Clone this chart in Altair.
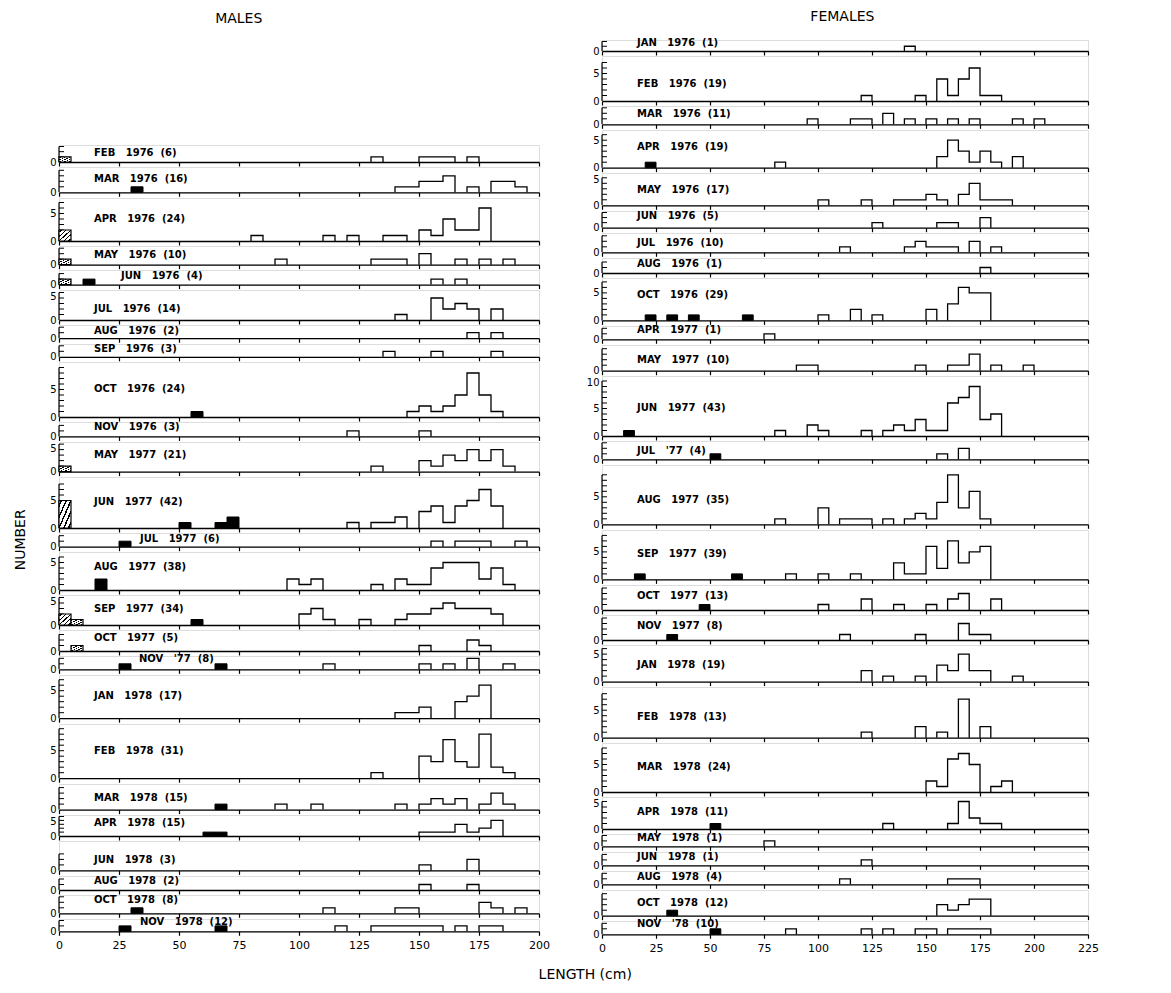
import altair as alt
import pandas as pd

# ---------------------------------------------------------------- data
BIN = 5  # histogram bin width (cm)

MALE_LABELS = [
    "FEB 1976 (6)", "MAR 1976 (16)", "APR 1976 (24)", "MAY 1976 (10)", "JUN 1976 (4)",
    "JUL 1976 (14)", "AUG 1976 (2)", "SEP 1976 (3)", "OCT 1976 (24)", "NOV 1976 (3)",
    "MAY 1977 (21)", "JUN 1977 (42)", "JUL 1977 (6)", "AUG 1977 (38)", "SEP 1977 (34)",
    "OCT 1977 (5)", "NOV '77 (8)", "JAN 1978 (17)", "FEB 1978 (31)", "MAR 1978 (15)",
    "APR 1978 (15)", "JUN 1978 (3)", "AUG 1978 (2)", "OCT 1978 (8)", "NOV 1978 (12)",
]
# open bars: (bin start cm, count)
MALE_OPEN = [
    [(130, 1), (150, 1), (155, 1), (160, 1), (170, 1)],
    [(140, 1), (145, 1), (150, 2), (155, 2), (160, 3), (170, 1), (180, 2), (185, 2), (190, 1)],
    [(80, 1), (110, 1), (120, 1), (135, 1), (140, 1), (150, 2), (155, 1), (160, 4), (165, 2), (170, 2), (175, 6)],
    [(90, 1), (130, 1), (135, 1), (140, 1), (150, 2), (165, 1), (175, 1), (185, 1)],
    [(155, 1), (165, 1)],
    [(140, 1), (155, 4), (160, 2), (165, 3), (170, 2), (180, 2)],
    [(170, 1), (180, 1)],
    [(135, 1), (155, 1), (180, 1)],
    [(145, 1), (150, 2), (155, 1), (160, 2), (165, 4), (170, 8), (175, 4), (180, 1)],
    [(120, 1), (150, 1)],
    [(130, 1), (150, 2), (155, 1), (160, 3), (165, 2), (170, 4), (175, 2), (180, 4), (185, 1)],
    [(120, 1), (130, 1), (135, 1), (140, 2), (150, 3), (155, 4), (160, 1), (165, 4), (170, 5), (175, 7), (180, 4)],
    [(155, 1), (165, 1), (170, 1), (175, 1), (190, 1)],
    [(95, 2), (100, 1), (105, 2), (130, 1), (140, 2), (145, 1), (150, 1), (155, 4), (160, 5), (165, 5), (170, 5), (175, 2), (180, 4), (185, 1)],
    [(100, 2), (105, 3), (110, 1), (125, 1), (140, 1), (145, 2), (150, 2), (155, 3), (160, 4), (165, 3), (170, 3), (175, 3), (180, 2)],
    [(150, 1), (170, 2), (175, 1)],
    [(110, 1), (150, 1), (160, 1), (170, 2), (185, 1)],
    [(140, 1), (145, 1), (150, 2), (165, 3), (170, 4), (175, 6)],
    [(130, 1), (150, 4), (155, 3), (160, 7), (165, 3), (170, 2), (175, 8), (180, 2), (185, 1)],
    [(90, 1), (105, 1), (140, 1), (150, 1), (155, 2), (160, 1), (165, 2), (175, 1), (180, 3), (185, 1)],
    [(150, 1), (155, 1), (160, 1), (165, 3), (170, 1), (175, 2), (180, 4)],
    [(150, 1), (170, 2)],
    [(150, 1), (170, 1)],
    [(110, 1), (140, 1), (145, 1), (175, 2), (180, 1), (190, 1)],
    [(115, 1), (130, 1), (135, 1), (140, 1), (145, 1), (150, 1), (155, 1), (165, 1), (175, 1), (180, 1)],
]
# solid black bars
MALE_FILLED = [
    [], [(30, 1)], [], [], [(10, 1)], [], [], [], [(55, 1)], [], [],
    [(50, 1), (65, 1), (70, 2)], [(25, 1)], [(15, 2)], [(55, 1)], [], [(25, 1), (65, 1)],
    [], [], [(65, 1)], [(60, 1), (65, 1)], [], [], [(30, 1)], [(25, 1), (65, 1)],
]
# hatched bars
MALE_HATCHED = [
    [(0, 1)], [], [(0, 2)], [(0, 1)], [(0, 1)], [], [], [], [], [], [(0, 1)],
    [(0, 5)], [], [], [(0, 2), (5, 1)], [(5, 1)], [], [], [], [], [], [], [], [], [],
]
MALE_YMAX = [3, 4, 7, 3, 2, 5, 2, 2, 9, 2, 5, 8, 2, 6, 5, 3, 2, 7, 9, 4, 5, 3, 2, 3, 2]

FEMALE_LABELS = [
    "JAN 1976 (1)", "FEB 1976 (19)", "MAR 1976 (11)", "APR 1976 (19)", "MAY 1976 (17)",
    "JUN 1976 (5)", "JUL 1976 (10)", "AUG 1976 (1)", "OCT 1976 (29)", "APR 1977 (1)",
    "MAY 1977 (10)", "JUN 1977 (43)", "JUL '77 (4)", "AUG 1977 (35)", "SEP 1977 (39)",
    "OCT 1977 (13)", "NOV 1977 (8)", "JAN 1978 (19)", "FEB 1978 (13)", "MAR 1978 (24)",
    "APR 1978 (11)", "MAY 1978 (1)", "JUN 1978 (1)", "AUG 1978 (4)", "OCT 1978 (12)",
    "NOV '78 (10)",
]
FEMALE_OPEN = [
    [(140, 1)],
    [(120, 1), (145, 1), (155, 4), (160, 1), (165, 4), (170, 6), (175, 1), (180, 1)],
    [(95, 1), (115, 1), (120, 1), (130, 2), (140, 1), (150, 1), (160, 1), (170, 1), (190, 1), (200, 1)],
    [(80, 1), (155, 2), (160, 5), (165, 3), (170, 1), (175, 3), (180, 1), (190, 2)],
    [(100, 1), (120, 1), (135, 1), (140, 1), (145, 1), (150, 2), (155, 1), (165, 2), (170, 4), (175, 1), (180, 1), (185, 1)],
    [(125, 1), (155, 1), (160, 1), (175, 2)],
    [(110, 1), (140, 1), (145, 2), (150, 1), (155, 1), (160, 1), (170, 2), (180, 1)],
    [(175, 1)],
    [(100, 1), (115, 2), (125, 1), (150, 2), (160, 3), (165, 6), (170, 5), (175, 5)],
    [(75, 1)],
    [(90, 1), (95, 1), (145, 1), (160, 1), (165, 1), (170, 3), (180, 1), (195, 1)],
    [(80, 1), (95, 2), (100, 1), (120, 1), (130, 1), (135, 2), (140, 1), (145, 3), (150, 1), (155, 1), (160, 6), (165, 7), (170, 9), (175, 3), (180, 4)],
    [(155, 1), (165, 2)],
    [(80, 1), (100, 3), (110, 1), (115, 1), (120, 1), (130, 1), (140, 1), (145, 2), (150, 1), (155, 4), (160, 9), (165, 3), (170, 6), (175, 1)],
    [(85, 1), (100, 1), (115, 1), (135, 3), (140, 1), (145, 1), (150, 6), (155, 2), (160, 7), (165, 3), (170, 5), (175, 6)],
    [(100, 1), (120, 2), (135, 1), (150, 1), (160, 2), (165, 3), (180, 2)],
    [(110, 1), (145, 1), (165, 3), (170, 1), (175, 1)],
    [(120, 2), (130, 1), (145, 1), (155, 3), (160, 2), (165, 5), (170, 2), (175, 2), (190, 1)],
    [(120, 1), (145, 2), (155, 1), (165, 7), (175, 2)],
    [(150, 2), (155, 1), (160, 6), (165, 7), (170, 5), (180, 1), (185, 2)],
    [(130, 1), (160, 1), (165, 5), (170, 2), (175, 1), (180, 1)],
    [(75, 1)],
    [(120, 1)],
    [(110, 1), (160, 1), (165, 1), (170, 1)],
    [(155, 2), (160, 1), (165, 2), (170, 3), (175, 3)],
    [(85, 1), (120, 1), (130, 1), (145, 1), (150, 1), (160, 1), (165, 1), (170, 1), (175, 1)],
]
FEMALE_FILLED = [
    [], [], [], [(20, 1)], [], [], [], [], [(20, 1), (30, 1), (40, 1), (65, 1)], [], [],
    [(10, 1)], [(50, 1)], [], [(15, 1), (60, 1)], [(45, 1)], [(30, 1)], [], [], [],
    [(50, 1)], [], [], [], [(30, 1)], [(50, 1)],
]
FEMALE_HATCHED = [[] for _ in FEMALE_LABELS]
FEMALE_YMAX = [2, 7, 3, 6, 5, 3, 3, 2, 7, 2, 4, 10, 3, 9, 8, 4, 4, 6, 8, 8, 5, 2, 2, 2, 4, 2]

MALE_XTICKS = [0, 25, 50, 75, 100, 125, 150, 175, 200]
FEMALE_XTICKS = [0, 25, 50, 75, 100, 125, 150, 175, 200, 225]

# ---------------------------------------------------------------- layout
FONT = "DejaVu Sans"
S = 5            # gap between stacked panels (px)
PPC = 5.5        # pixels per count
MALE_W, FEMALE_W = 480, 486
MALE_BASE = [160.7, 191, 239, 262.7, 282.3, 317.3, 335.5, 353.3, 413.3, 432.7, 467.3, 523.3, 542,
             585, 620, 646, 664.3, 712.5, 771.7, 802.3, 828.3, 862.7, 881.7, 905, 922.3]
FEMALE_BASE = [50, 100, 123.3, 166, 203.3, 225, 249.3, 269.3, 316.7, 335, 365.7, 430.7, 454,
               518.3, 572.7, 602.7, 632.7, 674.3, 730, 784, 821, 838.3, 856.7, 875, 905.7, 924]
MALE_FIRST_H, FEMALE_FIRST_H = 17, 11
MALE_TEXT_UP = [9, 13, 22, 10, 9, 11, 7, 8, 28, 9, 17, 26, 8, 23, 16, 13, 10, 22, 27, 12, 13, 10, 9, 13, 9]
FEMALE_TEXT_UP = [8, 17, 10, 21, 15, 12, 9, 9, 25, 9, 11, 28, 8, 24, 25, 14, 14, 17, 21, 25, 17, 8, 8, 7, 13, 10]
MALE_TEXT_DX = {4: 62, 12: 81, 16: 80, 24: 81}
NBSP = "\u00a0"


def pretty(label):
    parts = label.split(" ")
    return (NBSP * 3).join(parts[:2]) + NBSP * 2 + parts[2] if len(parts) == 3 else label


def hatch_fill(n=5):
    stops = []
    for i in range(n):
        a, b = i / n, (i + 1) / n
        c = (a + b) / 2
        hw = 0.16 / n
        stops += [
            alt.GradientStop(color="white", offset=a),
            alt.GradientStop(color="white", offset=c - hw),
            alt.GradientStop(color="black", offset=c - hw),
            alt.GradientStop(color="black", offset=c + hw),
            alt.GradientStop(color="white", offset=c + hw),
            alt.GradientStop(color="white", offset=b),
        ]
    return alt.LinearGradient(gradient="linear", stops=stops, x1=0, y1=0, x2=1, y2=1)


def step_points(bins):
    rows, groups = [], []
    for s, c in sorted(bins):
        if groups and groups[-1][-1][0] + BIN == s:
            groups[-1].append((s, c))
        else:
            groups.append([(s, c)])
    for gi, g in enumerate(groups):
        pts = [(g[0][0], 0)]
        for s, c in g:
            pts += [(s, c), (s + BIN, c)]
        pts.append((g[-1][0] + BIN, 0))
        for k, (x, y) in enumerate(pts):
            rows.append({"x": x, "y": y, "g": gi, "o": k})
    return pd.DataFrame(rows)


def panel(label, opn, filled, hatched, ymax, h, width, xmax, xticks, last, text_up, text_dx,
          extra_text=None):
    ppc = min(PPC, (h - 1.5) / ymax)
    xs = alt.Scale(domain=[0, xmax], nice=False, zero=False)
    ys = alt.Scale(domain=[0, h / ppc], nice=False, zero=False)
    xa = alt.Axis(values=xticks, tickSize=4, tickWidth=1.2, domainWidth=1.3, labels=last,
                  labelFontSize=11, labelPadding=4, title=None, grid=False,
                  domainColor="black", tickColor="black", labelColor="black", labelFont=FONT,
                  labelFlush=False)
    label_vals = [v for v in (0, 5, 10) if v <= ymax]
    top = label_vals[-1]
    gap = h - top * ppc
    yargs = {}
    if top > 0 and gap < 6:
        yargs["labelOffset"] = {"condition": {"test": f"datum.value == {top}",
                                              "value": round(6 - gap, 1)}, "value": 0}
    ya = alt.Axis(values=label_vals, ticks=False, domain=False,
                  grid=False, title=None, labelPadding=3, labelFontSize=10, labelColor="black",
                  labelFont=FONT, **yargs)
    layers = []
    # vertical axis line
    layers.append(
        alt.Chart(pd.DataFrame({"x": [0], "y0": [0], "y1": [ymax]})).mark_rule(
            color="black", strokeWidth=1.2).encode(
            x=alt.X("x:Q", scale=xs, axis=xa),
            y=alt.Y("y0:Q", scale=ys, axis=ya), y2="y1:Q")
    )
    # inward ticks
    layers.append(
        alt.Chart(pd.DataFrame({"v": list(range(1, ymax + 1))})).mark_rule(
            color="black", strokeWidth=1).encode(
            x=alt.value(0), x2=alt.value(5), y=alt.Y("v:Q", scale=ys, axis=ya))
    )
    if opn:
        layers.append(
            alt.Chart(step_points(opn)).mark_line(color="black", strokeWidth=1.3,
                                                  strokeJoin="miter").encode(
                x=alt.X("x:Q", scale=xs, axis=xa), y=alt.Y("y:Q", scale=ys, axis=ya),
                detail="g:N", order="o:Q")
        )
    if filled:
        df = pd.DataFrame({"s": [b[0] for b in filled], "c": [b[1] for b in filled]})
        df["e"] = df["s"] + BIN
        df["z"] = 0
        layers.append(
            alt.Chart(df).mark_rect(color="black", stroke="black", strokeWidth=1).encode(
                x=alt.X("s:Q", scale=xs, axis=xa), x2="e:Q",
                y=alt.Y("c:Q", scale=ys, axis=ya), y2="z:Q")
        )
    for s, c in hatched:
        df = pd.DataFrame({"s": [s], "e": [s + BIN], "c": [c], "z": [0]})
        layers.append(
            alt.Chart(df).mark_rect(fill=hatch_fill(), stroke="black", strokeWidth=1.2).encode(
                x=alt.X("s:Q", scale=xs, axis=xa), x2="e:Q",
                y=alt.Y("c:Q", scale=ys, axis=ya), y2="z:Q")
        )
    layers.append(
        alt.Chart(pd.DataFrame({"t": [pretty(label)]})).mark_text(
            align="left", baseline="middle", font=FONT, fontSize=10, fontWeight="bold",
            color="black").encode(
            text="t:N", x=alt.value(text_dx), y=alt.value(h - text_up))
    )
    if extra_text:
        layers.append(
            alt.Chart(pd.DataFrame({"t": [extra_text]})).mark_text(
                angle=270, align="center", baseline="middle", font=FONT, fontSize=14,
                color="black").encode(text="t:N", x=alt.value(-38), y=alt.value(h / 2))
        )
    return alt.layer(*layers).properties(width=width, height=h)


def column(labels, opens, filleds, hatcheds, ymaxs, bases, first_h, width, xmax, xticks,
           text_up, text_dx, extra=None):
    charts = []
    for i, lab in enumerate(labels):
        h = first_h if i == 0 else bases[i] - bases[i - 1] - S
        charts.append(panel(lab, opens[i], filleds[i], hatcheds[i], ymaxs[i], h, width, xmax,
                            xticks, i == len(labels) - 1, text_up[i], text_dx.get(i, 35),
                            extra.get(i) if extra else None))
    return charts


male_panels = column(MALE_LABELS, MALE_OPEN, MALE_FILLED, MALE_HATCHED, MALE_YMAX, MALE_BASE,
                     MALE_FIRST_H, MALE_W, 200, MALE_XTICKS, MALE_TEXT_UP, MALE_TEXT_DX,
                     extra={12: "NUMBER"})
female_panels = column(FEMALE_LABELS, FEMALE_OPEN, FEMALE_FILLED, FEMALE_HATCHED, FEMALE_YMAX,
                       FEMALE_BASE, FEMALE_FIRST_H, FEMALE_W, 225, FEMALE_XTICKS,
                       FEMALE_TEXT_UP, {})

male_top = MALE_BASE[0] - MALE_FIRST_H
female_top = FEMALE_BASE[0] - FEMALE_FIRST_H
# empty block that pushes the male column down
spacer = alt.Chart(pd.DataFrame({"a": [0]})).mark_point(opacity=0, size=1).encode(
    x=alt.X("a:Q", axis=None), y=alt.Y("a:Q", axis=None)
).properties(width=MALE_W, height=male_top - female_top - S,
             view=alt.ViewBackground(stroke="transparent", strokeWidth=0))

male_col = alt.vconcat(spacer, *male_panels, spacing=S, bounds="flush").resolve_scale(
    x="independent", y="independent").properties(
    title=alt.TitleParams("MALES", anchor="middle", dx=-43, fontSize=14, fontWeight="normal",
                          font=FONT, offset=14))
female_col = alt.vconcat(*female_panels, spacing=S, bounds="flush").resolve_scale(
    x="independent", y="independent").properties(
    title=alt.TitleParams("FEMALES", anchor="middle", fontSize=14, fontWeight="normal",
                          font=FONT, offset=14))

chart = alt.hconcat(male_col, female_col, spacing=35).resolve_scale(
    x="independent", y="independent").properties(
    padding={"left": 5, "right": 5, "top": 1, "bottom": 5},
    title=alt.TitleParams("LENGTH (cm)", orient="bottom", anchor="middle", dx=29, offset=14,
                          fontSize=14, fontWeight="normal", font=FONT)
).configure_view(stroke="transparent", strokeWidth=0).configure(background="white")

chart.save("out.html", embed_options={"renderer": "svg", "actions": False})
